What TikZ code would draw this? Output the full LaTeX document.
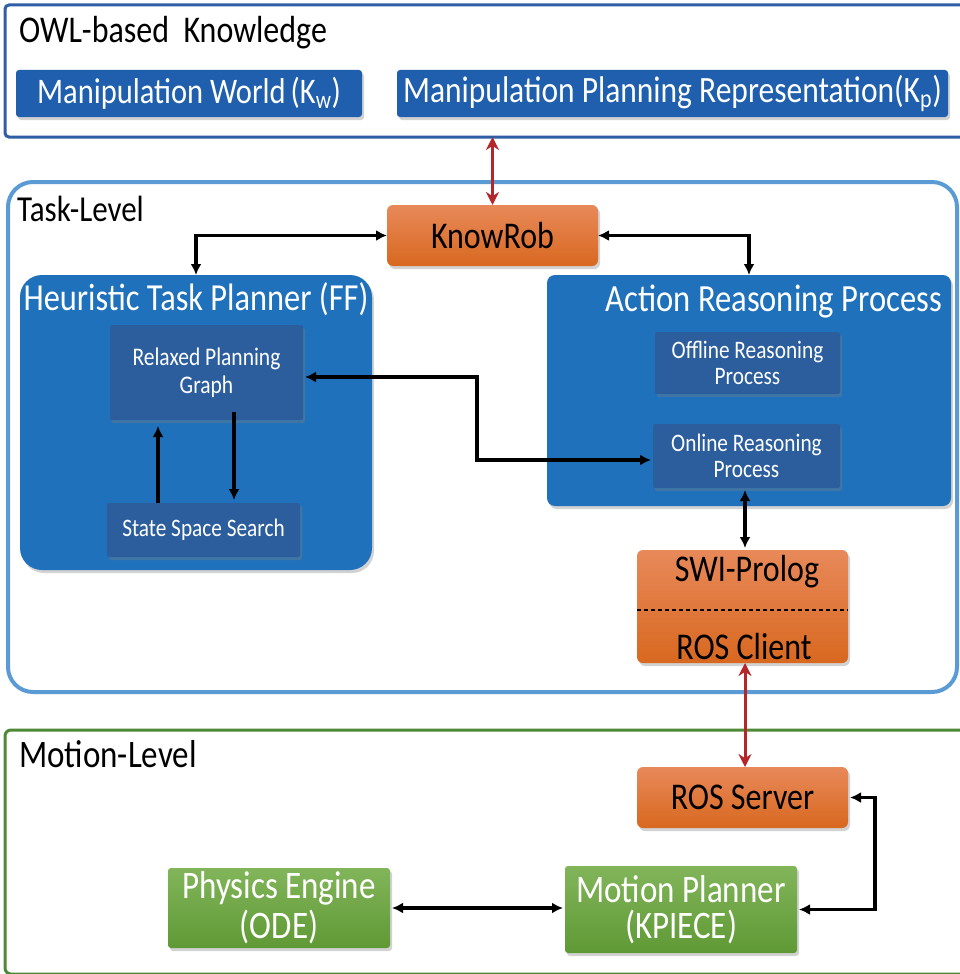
\documentclass[tikz,border=0pt]{standalone}
\usepackage{fontspec}
\usepackage{graphicx}
\setmainfont{Carlito}
\usetikzlibrary{arrows.meta,shadows,calc}
\definecolor{owlborder}{HTML}{2F5DA6}
\definecolor{manblue}{HTML}{1F5FAE}
\definecolor{taskborder}{HTML}{5B9BD5}
\definecolor{mainblue}{HTML}{1F71BB}
\definecolor{innerblue}{HTML}{2C5E9E}
\definecolor{orangetop}{HTML}{E8895A}
\definecolor{orangebot}{HTML}{D8681F}
\definecolor{greentop}{HTML}{82B55A}
\definecolor{greenbot}{HTML}{5F9935}
\definecolor{greenborder}{HTML}{4E8A35}
\definecolor{redarrow}{HTML}{B3272B}
\newcommand{\fs}[1]{\fontsize{#1}{#1}\selectfont}
\newcommand{\tx}[2]{\scalebox{1}[1.18]{\fs{#1}#2}}
\tikzset{
  shad/.style={drop shadow={opacity=0.35,shadow xshift=2pt,shadow yshift=-3pt}},
  box/.style={anchor=north west,inner sep=0pt,outer sep=0pt},
  manbox/.style={box,fill=manblue,rounded corners=3pt,shad,text=white},
  mainbox/.style={box,fill=mainblue,shad},
  innerbox/.style={box,fill=innerblue,rounded corners=2pt,shad,text=white,align=center},
  orangebox/.style={box,top color=orangetop,bottom color=orangebot,rounded corners=6pt,shad,text=black},
  greenbox/.style={box,top color=greentop,bottom color=greenbot,rounded corners=3pt,shad,text=white,align=center},
  title/.style={anchor=west,inner sep=0pt,text=black},
  blk/.style={line width=3.5pt,{Latex[length=11pt,width=11pt]}-{Latex[length=11pt,width=11pt]}},
  blkone/.style={line width=3.5pt,-{Latex[length=11pt,width=11pt]}},
  redarr/.style={line width=3pt,draw=redarrow,{Stealth[length=13pt,width=13pt]}-{Stealth[length=13pt,width=13pt]}},
}
\begin{document}
\begin{tikzpicture}[x=1pt,y=-1pt]
\useasboundingbox (0,0) rectangle (959,974);
\fill[white] (0,0) rectangle (959,974);
% ---------- OWL ----------
\node[box,draw=owlborder,line width=3pt,rounded corners=4pt,minimum width=965pt,minimum height=132pt] (owl) at (5,5) {};
\node[title] (owlt) at (19,33) {\tx{32}{OWL-based\ \ Knowledge}};
\node[manbox,minimum width=346pt,minimum height=47pt] (mw) at (16,70) {\tx{30.5}{Manipulation World\,(K\textsubscript{w})}};
\node[manbox,minimum width=551pt,minimum height=47pt] (mpr) at (397,70) {\tx{31.5}{Manipulation Planning Representation(K\textsubscript{p})}};
% ---------- Task level ----------
\node[box,draw=taskborder,line width=4pt,rounded corners=25pt,minimum width=949pt,minimum height=510pt] (task) at (8,182) {};
\node[title] (taskt) at (17,209) {\tx{31}{Task-Level}};
\node[orangebox,minimum width=211pt,minimum height=61pt] (kr) at (387,205) {\tx{32}{KnowRob}};
\node[mainbox,rounded corners=22pt,minimum width=352pt,minimum height=295pt] (htp) at (20,275) {};
\node[anchor=center,inner sep=0pt,text=white] (htpt) at (196,299) {\tx{32.4}{Heuristic Task Planner (FF)}};
\node[innerbox,minimum width=193pt,minimum height=95pt] (rpg) at (110,325) {\tx{21.5}{Relaxed Planning}\\[5pt]\tx{21.5}{Graph}};
\node[innerbox,minimum width=193pt,minimum height=54pt] (sss) at (107,503) {\tx{21.3}{State Space Search}};
\node[mainbox,rounded corners=8pt,minimum width=404pt,minimum height=231pt] (arp) at (547,275) {};
\node[anchor=east,inner sep=0pt,text=white] (arpt) at (942,302) {\tx{32.6}{Action Reasoning Process}};
\node[innerbox,minimum width=185pt,minimum height=62pt] (ofr) at (655,332) {\tx{21.3}{Offline Reasoning}\\[4pt]\tx{21.3}{Process}};
\node[innerbox,minimum width=187pt,minimum height=64pt] (onr) at (653,424) {\tx{21.3}{Online Reasoning}\\[4pt]\tx{21.3}{Process}};
\node[orangebox,minimum width=211pt,minimum height=113pt] (swi) at (637,550) {};
\node[anchor=center,inner sep=0pt] (swit) at (747,572) {\tx{32}{SWI-Prolog}};
\node[anchor=center,inner sep=0pt] (rosc) at (744,647) {\tx{32}{ROS Client}};
\draw[line width=2pt,dash pattern=on 4pt off 3pt] (swi.west) ++(0,3) coordinate (dl) -- (dl -| swi.east);
% ---------- Motion level ----------
\node[box,draw=greenborder,line width=3pt,rounded corners=6pt,minimum width=965pt,minimum height=244pt] (mot) at (5,730) {};
\node[title] (mott) at (19,754) {\tx{33}{Motion-Level}};
\node[orangebox,minimum width=211pt,minimum height=61pt] (ross) at (637,767) {\tx{32}{ROS Server}};
\node[greenbox,minimum width=222pt,minimum height=80pt] (pe) at (168,868) {\tx{33}{Physics Engine}\\[4pt]\tx{33}{(ODE)}};
\node[greenbox,minimum width=232pt,minimum height=87pt] (mp) at (565,866) {\tx{33}{Motion Planner}\\[6pt]\tx{33}{(KPIECE)}};
% ---------- connectors ----------
\draw[redarr] (kr.north) -- (kr.north |- owl.south);
\draw[blk] (kr.west) -| (htp.north);
\draw[blk] (kr.east) -| (arp.north);
\coordinate (cup) at (158,0);
\coordinate (cdn) at (234,0);
\draw[blkone,shorten >=6pt] (sss.north -| cup) -- (rpg.south -| cup);
\draw[blkone,shorten >=3pt] ([yshift=8pt]rpg.south -| cdn) -- (sss.north -| cdn);
\coordinate (cmid) at (477,420);
\coordinate (cy1) at (0,377);
\coordinate (cy2) at (0,460);
\draw[blk,shorten <=2pt,shorten >=2pt] (rpg.east |- cy1) -- (cmid |- cy1) -- (cmid |- cy2) -- (onr.west |- cy2);
\coordinate (cv) at (745,0);
\draw[blk,shorten <=2pt,shorten >=2pt] (onr.south -| cv) -- (swi.north -| cv);
\draw[redarr] (swi.south -| cv) -- (ross.north -| cv);
\draw[blk,shorten <=2pt,shorten >=2pt] (pe.east) -- (mp.west |- pe.east);
\coordinate (cr) at (875,850);
\draw[blk,shorten <=2pt,shorten >=2pt] (mp.east) -- (mp.east -| cr) -- (cr |- ross.east) -- (ross.east);
\end{tikzpicture}
\end{document}
